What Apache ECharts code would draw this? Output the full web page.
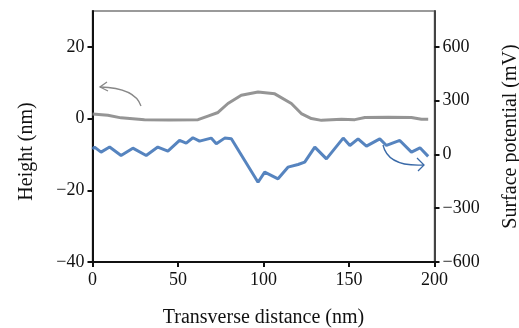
<!DOCTYPE html>
<html>
<head>
<meta charset="utf-8">
<script src="https://cdn.jsdelivr.net/npm/echarts@6/dist/echarts.min.js"></script>
<style>
  html, body { margin: 0; padding: 0; background: #fff; }
  #chart { width: 519px; height: 328px; }
</style>
</head>
<body>
<div id="chart"></div>
<script>
// height profile (nm) vs transverse distance (nm)
const heightX = [0, 9, 16.7, 30.4, 45, 61.7, 67.5, 73.4, 79.2, 87, 96.8, 106.6, 116.3, 122.1, 128, 133.9, 145.6, 153.4, 159.3, 172.9, 186.5, 192.4, 196.3]
const heightY = [1.3, 0.9, 0.2, -0.3, -0.4, -0.3, 0.7, 1.7, 4.2, 6.5, 7.4, 6.9, 4.2, 1.4, 0, -0.5, -0.2, -0.3, 0.3, 0.4, 0.3, -0.2, -0.2]

// surface potential (mV) vs transverse distance (nm)
const potentialX = [0, 1.2, 5, 10, 16.7, 23.6, 31.4, 38.2, 44.1, 50.9, 54.8, 58.7, 62.6, 69.4, 72.4, 77.3, 81.2, 89, 96.8, 100.7, 108.5, 114.3, 120.2, 124.1, 130, 136.8, 146.6, 150.5, 155.3, 160.2, 168, 171.9, 179.7, 186.5, 191.5, 196.3]
const potentialY = [30, 41, 13, 41, -6, 35, -6, 41, 18, 78, 63, 93, 74, 91, 59, 91, 87, -34, -155, -99, -136, -71, -56, -43, 41, -25, 91, 50, 87, 46, 87, 50, 78, 13, 37, -11]

const xTicks = [0, 50, 100, 150, 200]
const heightTicks = [-40, -20, 0, 20]
const potentialTicks = [-600, -300, 0, 300, 600]

const font = 'Liberation Serif'

function pairs(xs, ys) {
  return xs.map((x, i) => [x, ys[i]])
}
function minus(v) {
  return String(v).replace('-', '\u2212')
}

const chart = echarts.init(document.getElementById('chart'))
chart.setOption({
  animation: false,
  grid: {
    left: 92.5, right: 84.5, top: 11, bottom: 66,
    outerBoundsMode: 'none',
    show: true, borderColor: '#7a7a7a', borderWidth: 1.5
  },
  xAxis: {
    type: 'value', min: 0, max: 200,
    name: 'Transverse distance (nm)', nameLocation: 'middle', nameGap: 46,
    nameTextStyle: { fontFamily: font, fontSize: 20, color: '#111' },
    axisLine: { onZero: false, lineStyle: { color: '#111', width: 2 } },
    axisTick: { length: 5, customValues: xTicks, lineStyle: { color: '#111', width: 2 } },
    axisLabel: { fontFamily: font, fontSize: 18, color: '#111', margin: 9, customValues: xTicks },
    splitLine: { show: false }
  },
  yAxis: [{
    type: 'value', min: -40, max: 30, position: 'left',
    name: 'Height (nm)', nameLocation: 'middle', nameGap: 56,
    nameTextStyle: { fontFamily: font, fontSize: 20, color: '#111', padding: [0, 30, 0, 0] },
    axisLine: { show: true, onZero: false, lineStyle: { color: '#111', width: 2 } },
    axisTick: { show: true, length: 5, customValues: heightTicks, lineStyle: { color: '#111', width: 2 } },
    axisLabel: { fontFamily: font, fontSize: 18, color: '#111', margin: 8, customValues: heightTicks, formatter: minus },
    splitLine: { show: false }
  }, {
    type: 'value', min: -600, max: 800, position: 'right',
    name: 'Surface potential (mV)', nameLocation: 'middle', nameGap: 66,
    nameTextStyle: { fontFamily: font, fontSize: 20, color: '#111' },
    axisLine: { show: true, onZero: false, lineStyle: { color: '#444', width: 2 } },
    axisTick: { show: true, length: 5, customValues: potentialTicks, lineStyle: { color: '#111', width: 2 } },
    axisLabel: { fontFamily: font, fontSize: 18, color: '#111', margin: 8, customValues: potentialTicks, formatter: minus },
    splitLine: { show: false }
  }],
  series: [{
    name: 'Height',
    type: 'line',
    yAxisIndex: 0,
    showSymbol: false,
    data: pairs(heightX, heightY),
    lineStyle: { color: '#8a8a8a', width: 3, opacity: 0.9 }
  }, {
    name: 'Surface potential',
    type: 'line',
    yAxisIndex: 1,
    showSymbol: false,
    data: pairs(potentialX, potentialY),
    lineStyle: { color: '#4477b8', width: 3, opacity: 0.9 }
  }],
  // little arrows telling which axis each curve belongs to
  graphic: [{
    type: 'bezierCurve',
    shape: { x1: 141, y1: 106, x2: 100, y2: 87, cpx1: 135, cpy1: 88 },
    style: { stroke: '#888', lineWidth: 1.3, fill: null }
  }, {
    type: 'polyline',
    shape: { points: [[107, 82], [100, 87], [108, 91]] },
    style: { stroke: '#888', lineWidth: 1.3, fill: null }
  }, {
    type: 'bezierCurve',
    shape: { x1: 383, y1: 145, x2: 424, y2: 165, cpx1: 388, cpy1: 167 },
    style: { stroke: '#3a6aa8', lineWidth: 1.3, fill: null }
  }, {
    type: 'polyline',
    shape: { points: [[417, 158], [424, 165], [418, 171]] },
    style: { stroke: '#3a6aa8', lineWidth: 1.3, fill: null }
  }]
})
</script>
</body>
</html>
